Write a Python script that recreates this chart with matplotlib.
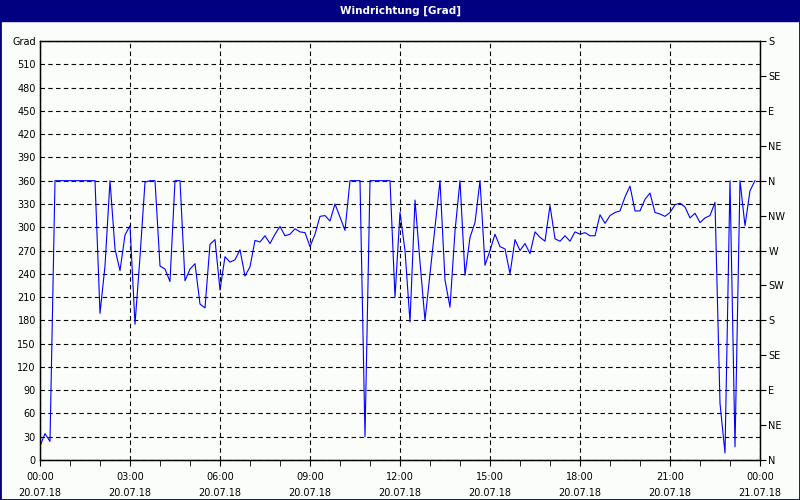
import numpy as np
from matplotlib import pyplot as plt
from matplotlib.patches import Rectangle
from matplotlib.ticker import MultipleLocator

# one reading every 10 minutes, 20.07.18 00:00 .. 23:50
hours = np.arange(144) / 6

# wind direction in degrees
windDir = [
    18, 34, 24, 360, 360, 360, 360, 360, 360, 360, 360,
    360, 189, 250, 360, 272, 244, 290, 302, 175, 262,
    358, 360, 360, 250, 246, 230, 360, 360, 231, 246,
    253, 201, 196, 278, 284, 219, 262, 255, 258, 271,
    237, 249, 283, 281, 289, 279, 291, 301, 289, 291,
    298, 294, 293, 275, 291, 314, 315, 308, 330, 313,
    296, 360, 360, 360, 30, 360, 360, 360, 360, 360,
    210, 319, 270, 178, 335, 255, 180, 240, 300, 360,
    232, 197, 295, 360, 238, 287, 306, 360, 251, 270,
    291, 275, 272, 240, 284, 270, 279, 266, 294, 287,
    282, 328, 285, 282, 289, 282, 294, 291, 293, 289,
    289, 316, 305, 315, 319, 321, 339, 353, 321, 321,
    336, 344, 319, 317, 314, 319, 329, 331, 326, 312,
    318, 306, 312, 315, 332, 73, 9, 360, 17, 360,
    302, 347, 360,
]

xTicks = [0, 3, 6, 9, 12, 15, 18, 21, 24]
xTickLabels = ["00:00\n20.07.18", "03:00\n20.07.18", "06:00\n20.07.18",
               "09:00\n20.07.18", "12:00\n20.07.18", "15:00\n20.07.18",
               "18:00\n20.07.18", "21:00\n20.07.18", "00:00\n21.07.18"]
leftTicks = list(range(0, 541, 30))
leftLabels = [str(v) for v in range(0, 511, 30)] + ["Grad"]
rightTicks = list(range(0, 541, 45))
compass = ["N", "NE", "E", "SE", "S", "SW", "W", "NW", "N", "NE", "E", "SE", "S"]

plt.rcParams["font.family"] = "DejaVu Sans"
plt.rcParams["font.size"] = 7

fig = plt.figure(figsize=(8, 5), dpi=100, facecolor="#FBFDFB")
ax = fig.add_axes([0.05, 0.08, 0.90, 0.838])
ax.set_facecolor("#FBFDFB")

ax.plot(hours, windDir, color="#0000FF", lw=0.8)
ax.set_xlim(0, 24)
ax.set_ylim(0, 540)

ax.set_xticks(xTicks)
ax.set_xticklabels(xTickLabels)
for t in ax.get_xticklabels():
    t.set_linespacing(1.75)
ax.xaxis.set_minor_locator(MultipleLocator(1))
ax.tick_params(axis="x", which="both", length=4, direction="out", pad=5)

ax.set_yticks(leftTicks)
ax.set_yticklabels(leftLabels)
ax.tick_params(axis="y", length=0, pad=3)

ax.grid(True, which="major", color="black", ls=(0, (4, 3)), lw=0.8)
for s in ax.spines.values():
    s.set_color("black")
    s.set_linewidth(1)

# compass scale on the right
ax2 = ax.twinx()
ax2.set_ylim(0, 540)
ax2.set_yticks(rightTicks)
ax2.set_yticklabels(compass)
ax2.tick_params(axis="y", length=4, pad=2)

# title bar and frame
fig.add_artist(Rectangle((0, 1 - 21 / 500), 1, 21 / 500, transform=fig.transFigure,
                         color="#000080", zorder=0))
fig.text(0.5, 1 - 10.5 / 500, "Windrichtung [Grad]", color="white",
         ha="center", va="center", fontsize=7.5, fontweight="bold")
fig.add_artist(Rectangle((0, 0), 1, 1, transform=fig.transFigure, fill=False,
                         edgecolor="#000080", lw=2))

fig.savefig("out.png", dpi=100, facecolor=fig.get_facecolor())
